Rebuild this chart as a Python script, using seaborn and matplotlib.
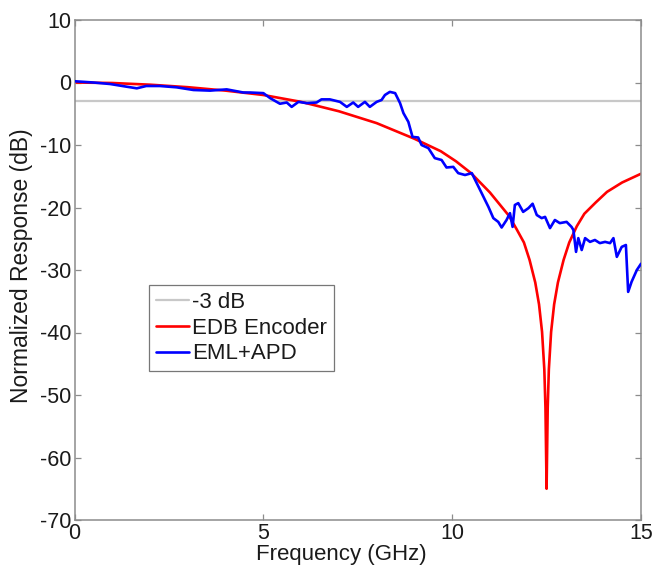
import numpy as np
import pandas as pd
import matplotlib
matplotlib.use("Agg")
import matplotlib.pyplot as plt
import seaborn as sns

# ---- data ----
threshold_db = -3.0

edb_freq = [0, 1, 2, 3, 4, 5, 6, 7, 8, 9, 9.7, 10.1, 10.5, 11.0, 11.5, 11.7,
            11.9, 12.05, 12.2, 12.3, 12.38, 12.44, 12.47, 12.5, 12.53, 12.56,
            12.62, 12.7, 12.8, 12.95, 13.1, 13.3, 13.5, 13.8, 14.1, 14.5, 15.0]
edb_db = [0.0, -0.08, -0.35, -0.75, -1.3, -2.0, -3.1, -4.6, -6.5, -9.0, -11.0,
          -12.6, -14.5, -17.6, -21.3, -23.4, -25.6, -28.4, -32.0, -35.5, -39.9,
          -45.9, -52.0, -65.0, -52.0, -45.9, -39.9, -35.5, -32.0, -28.4, -25.6,
          -23.0, -21.0, -19.2, -17.5, -16.0, -14.6]

eml_freq = [0.0, 0.5, 0.94, 1.38, 1.65, 1.9, 2.26, 2.7, 3.15, 3.59, 4.03, 4.47,
            4.65, 5.0, 5.18, 5.44, 5.62, 5.75, 5.93, 6.15, 6.41, 6.54, 6.76,
            7.03, 7.21, 7.38, 7.51, 7.69, 7.82, 8.0, 8.13, 8.22, 8.35, 8.49,
            8.62, 8.71, 8.84, 8.95, 9.1, 9.19, 9.37, 9.54, 9.72, 9.85, 10.03,
            10.16, 10.34, 10.52, 10.65, 10.74, 10.87, 10.96, 11.09, 11.22,
            11.31, 11.44, 11.53, 11.6, 11.66, 11.75, 11.88, 12.02, 12.13,
            12.24, 12.37, 12.46, 12.59, 12.72, 12.85, 13.03, 13.16, 13.21,
            13.28, 13.34, 13.43, 13.52, 13.65, 13.78, 13.91, 14.05, 14.18,
            14.27, 14.36, 14.49, 14.6, 14.66, 14.75, 14.89, 15.0]
eml_db = [0.2, 0.0, -0.24, -0.67, -0.93, -0.56, -0.56, -0.77, -1.2, -1.3, -1.1,
          -1.6, -1.6, -1.7, -2.5, -3.4, -3.2, -3.9, -3.1, -3.3, -3.2, -2.7,
          -2.7, -3.1, -3.9, -3.2, -3.9, -3.1, -3.9, -3.1, -2.8, -2.0, -1.5,
          -1.7, -3.3, -4.9, -6.3, -8.7, -8.8, -10.0, -10.5, -12.1, -12.4,
          -13.6, -13.5, -14.5, -14.8, -14.5, -16.1, -17.2, -18.8, -19.9,
          -21.7, -22.3, -23.2, -22.0, -20.9, -23.1, -19.6, -19.3, -20.7,
          -20.1, -19.4, -21.2, -21.7, -21.5, -23.3, -22.0, -22.5, -22.3,
          -23.1, -23.6, -27.1, -24.9, -26.8, -24.9, -25.5, -25.2, -25.7,
          -25.5, -25.7, -24.9, -27.9, -26.3, -26.0, -33.5, -31.9, -30.0, -29.0]

x_ticks = [0, 5, 10, 15]
y_ticks = [-70, -60, -50, -40, -30, -20, -10, 0, 10]

labels = ["-3 dB", "EDB Encoder", "EML+APD"]

# ---- plotting ----
sns.set_style("white")
plt.rcParams["font.family"] = ["Liberation Sans", "DejaVu Sans"]

fig = plt.figure(figsize=(6.55, 5.69), dpi=100)
ax = fig.add_axes([74.5 / 655, 1 - 520 / 569, (641 - 74.5) / 655, 500 / 569])

ax.axhline(threshold_db, color="#c8c8c8", lw=1.6, label=labels[0], zorder=1)

edb = pd.DataFrame({"f": edb_freq, "db": edb_db})
eml = pd.DataFrame({"f": eml_freq, "db": eml_db})
sns.lineplot(data=edb, x="f", y="db", ax=ax, color="#ff0000", lw=1.9,
             label=labels[1], estimator=None, sort=False, zorder=2)
sns.lineplot(data=eml, x="f", y="db", ax=ax, color="#0000ff", lw=1.9,
             label=labels[2], estimator=None, sort=False, zorder=3)

ax.set_xlim(0, 15)
ax.set_ylim(-70, 10)
ax.set_xticks(x_ticks)
ax.set_yticks(y_ticks)
ax.set_xticklabels([str(t) for t in x_ticks])
ax.set_yticklabels([str(t) for t in y_ticks])

for s in ax.spines.values():
    s.set_visible(True)
    s.set_color("#8c8c8c")
    s.set_linewidth(1.1)

ax.tick_params(axis="both", which="both", direction="in", length=4, width=0.9,
               color="#8c8c8c", labelsize=15.5, labelcolor="#1a1a1a",
               top=True, right=True, bottom=True, left=True)
ax.tick_params(axis="x", pad=2.5)
ax.tick_params(axis="y", pad=2)

ax.set_xlabel("Frequency (GHz)", fontsize=16, color="#1a1a1a")
ax.set_ylabel("Normalized Response (dB)", fontsize=16.5, color="#1a1a1a")
ax.xaxis.set_label_coords((341 - 74.5) / 566.5, -24 / 500)
ax.yaxis.set_label_coords(-41 / 566.5, (520 - 266) / 500)

leg = ax.legend(loc="upper left", bbox_to_anchor=(0.1315, 0.47), borderaxespad=0,
                fancybox=False, frameon=True, edgecolor="#555555",
                fontsize=16, handlelength=1.5, handletextpad=0.15,
                labelspacing=0.22, borderpad=0.3)
leg.get_frame().set_linewidth(0.9)
for t in leg.get_texts():
    t.set_color("#1a1a1a")

fig.savefig("out.png", dpi=100, facecolor="white")
